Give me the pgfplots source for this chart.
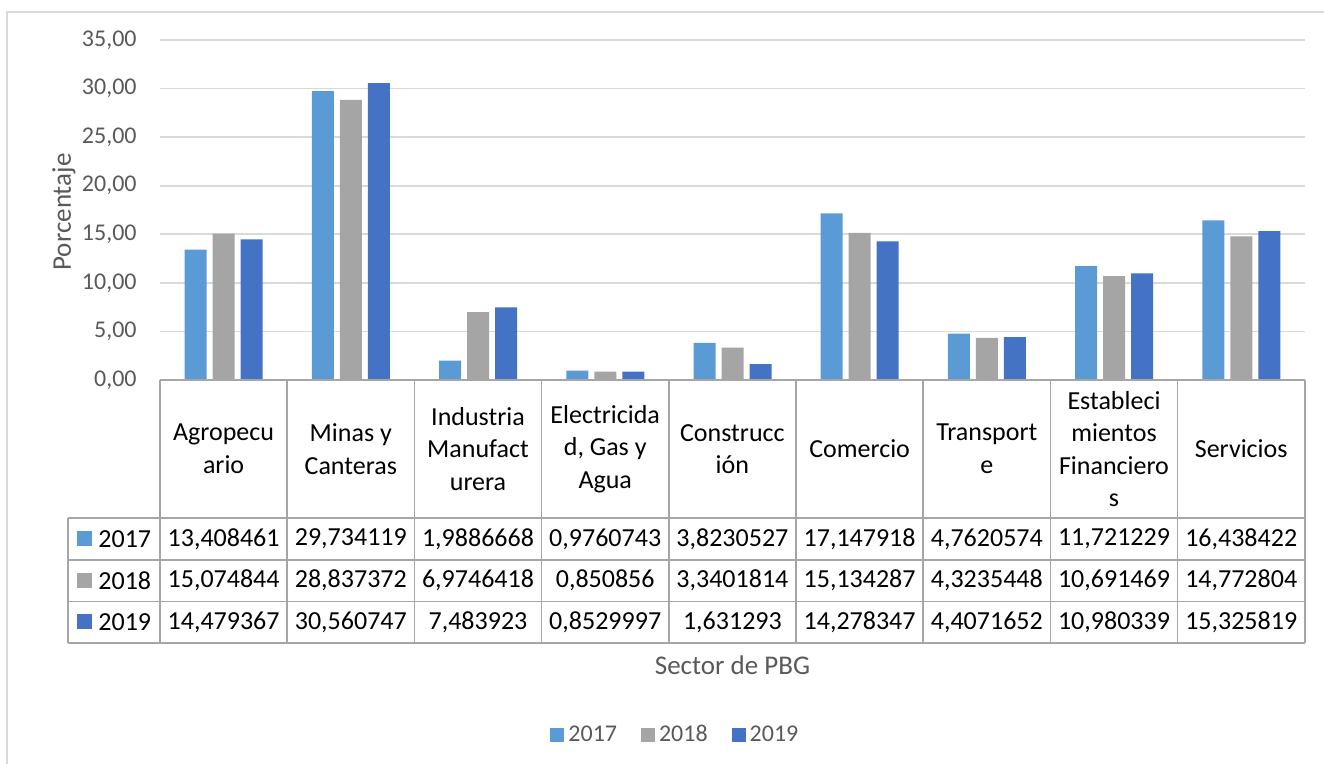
\documentclass[border=0pt]{standalone}
\usepackage{fontspec}
\setmainfont{Carlito}
\usepackage{pgfplots}
\pgfplotsset{compat=1.18}
\definecolor{c17}{RGB}{91,155,213}
\definecolor{c18}{RGB}{165,165,165}
\definecolor{c19}{RGB}{68,114,196}
\definecolor{txtgray}{RGB}{89,89,89}
\definecolor{gridgray}{RGB}{217,217,217}
\definecolor{tabline}{RGB}{166,166,166}

\begin{document}
\begin{tikzpicture}
\begin{axis}[
    at={(0,0)}, anchor=south west,
    scale only axis, width=572.5pt, height=170pt,
    xmin=-0.5, xmax=8.5, ymin=0, ymax=35,
    ybar=3pt, bar width=11pt,
    xtick=\empty,
    ytick={0,5,...,35},
    ymajorgrids, grid style={draw=gridgray, line width=0.9pt},
    axis line style={draw=none},
    major tick length=0pt,
    yticklabel style={font=\fontsize{12}{14}\selectfont, text=txtgray, inner sep=0pt, xshift=-11.5pt,
        /pgf/number format/fixed, /pgf/number format/fixed zerofill,
        /pgf/number format/precision=2, /pgf/number format/use comma,
        /pgf/number format/assume math mode=true},
    xlabel={Sector de PBG},
    x label style={at={(axis description cs:0.5,-0.838)}, anchor=center,
        font=\fontsize{13.5}{16}\selectfont, text=txtgray},
    ylabel={Porcentaje},
    y label style={at={(axis description cs:-0.084,0.494)}, anchor=center,
        font=\fontsize{13.5}{16}\selectfont, text=txtgray},
    legend style={at={(0.451,-1.044)}, anchor=center, draw=none, fill=none,
        legend columns=3, font=\fontsize{12}{14}\selectfont, text=txtgray,
        /tikz/every even column/.append style={column sep=10pt}},
    legend image code/.code={\fill[#1] (0pt,-3.5pt) rectangle (7pt,3.5pt);},
]
\addplot[fill=c17, draw=none] coordinates {
    (0,13.408461) (1,29.734119) (2,1.9886668) (3,0.9760743) (4,3.8230527)
    (5,17.147918) (6,4.7620574) (7,11.721229) (8,16.438422)};
\addlegendentry{2017}
\addplot[fill=c18, draw=none] coordinates {
    (0,15.074844) (1,28.837372) (2,6.9746418) (3,0.850856) (4,3.3401814)
    (5,15.134287) (6,4.3235448) (7,10.691469) (8,14.772804)};
\addlegendentry{2018}
\addplot[fill=c19, draw=none] coordinates {
    (0,14.479367) (1,30.560747) (2,7.483923) (3,0.8529997) (4,1.631293)
    (5,14.278347) (6,4.4071652) (7,10.980339) (8,15.325819)};
\addlegendentry{2019}
\end{axis}

% data table under the plot, in pixel units of the reference
\begin{scope}[x=0.5pt, y=-0.5pt, shift={(-80pt,190pt)}]
  \draw[gridgray, line width=0.75pt] (7,800) -- (7,12) -- (1340,12);
  \begin{scope}[tabline, line width=0.75pt]
    \draw (160,380) -- (1305,380);
    \foreach \yy in {518,560,601.5,643} \draw (68,\yy) -- (1305,\yy);
    \foreach \k in {0,...,9} \draw (160+127.2*\k,380) -- (160+127.2*\k,643);
    \draw (68,518) -- (68,643);
  \end{scope}
  \begin{scope}[every node/.style={font=\fontsize{13}{16.25}\selectfont, align=center, inner sep=0pt}]
    \foreach \c [count=\i from 0] in {{Agropecu\\ario},{Minas y\\Canteras},{Industria\\Manufact\\urera},
        {Electricida\\d, Gas y\\Agua},{Construcc\\ión},{Comercio},{Transport\\e},
        {Estableci\\mientos\\Financiero\\s},{Servicios}}
      \node at (223.6+127.2*\i,449) {\c};
    \foreach \v [count=\i from 0] in {{13,408461},{29,734119},{1,9886668},{0,9760743},{3,8230527},
        {17,147918},{4,7620574},{11,721229},{16,438422}}
      \node at (223.6+127.2*\i,539) {\v};
    \foreach \v [count=\i from 0] in {{15,074844},{28,837372},{6,9746418},{0,850856},{3,3401814},
        {15,134287},{4,3235448},{10,691469},{14,772804}}
      \node at (223.6+127.2*\i,580.5) {\v};
    \foreach \v [count=\i from 0] in {{14,479367},{30,560747},{7,483923},{0,8529997},{1,631293},
        {14,278347},{4,4071652},{10,980339},{15,325819}}
      \node at (223.6+127.2*\i,622) {\v};
    \fill[c17] (77,531.5) rectangle (92,546.5);
    \node[anchor=west] at (98,539) {2017};
    \fill[c18] (77,573) rectangle (92,588);
    \node[anchor=west] at (98,580.5) {2018};
    \fill[c19] (77,614.5) rectangle (92,629.5);
    \node[anchor=west] at (98,622) {2019};
  \end{scope}
  \pgfresetboundingbox
  \useasboundingbox (0,0) rectangle (1324,764);
\end{scope}
\end{tikzpicture}
\end{document}
